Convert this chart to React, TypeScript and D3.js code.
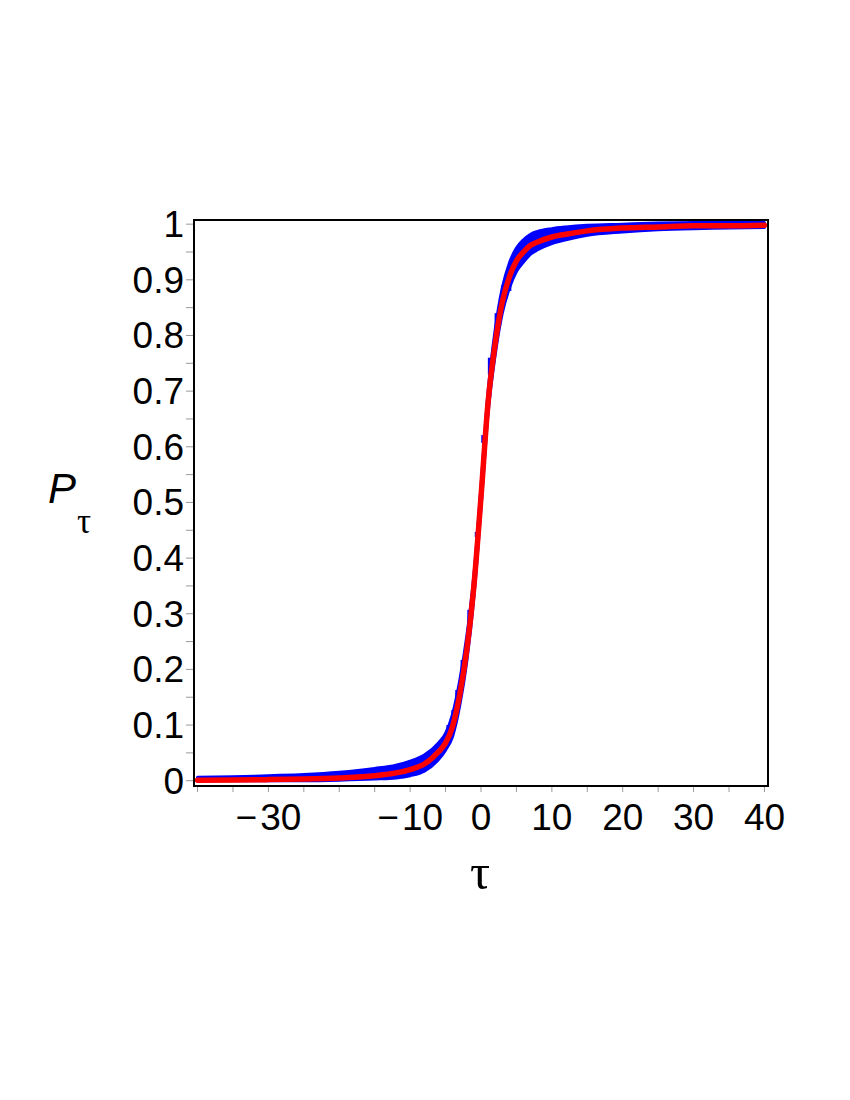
import React from "react";
import * as d3 from "d3";

// red fitted curve
const redTau = [-40, -35, -30, -25, -20, -15, -12, -10, -8, -6, -5, -4, -3, -2, -1, 0, 1, 2, 3, 4, 5, 6, 7, 8, 10, 12, 15, 20, 25, 30, 35, 40];
const redP = [0.001, 0.0015, 0.002, 0.003, 0.005, 0.009, 0.014, 0.020, 0.030, 0.052, 0.068, 0.098, 0.155, 0.235, 0.35, 0.51, 0.68, 0.785, 0.86, 0.905, 0.934, 0.95, 0.962, 0.968, 0.977, 0.982, 0.988, 0.993, 0.995, 0.997, 0.997, 0.998];

// blue sampled band (lower / upper edge of the points)
const blueLow = [0.0, 0.0, 0.0, 0.0, 0.001, 0.003, 0.005, 0.009, 0.017, 0.038, 0.055, 0.08, 0.135, 0.215, 0.33, 0.49, 0.66, 0.765, 0.84, 0.885, 0.915, 0.932, 0.946, 0.954, 0.965, 0.972, 0.98, 0.986, 0.99, 0.992, 0.993, 0.994];
const blueHigh = [0.006, 0.007, 0.009, 0.011, 0.015, 0.022, 0.028, 0.035, 0.046, 0.068, 0.085, 0.12, 0.18, 0.26, 0.37, 0.53, 0.70, 0.81, 0.885, 0.93, 0.957, 0.972, 0.982, 0.987, 0.992, 0.995, 0.998, 1.0, 1.002, 1.003, 1.003, 1.003];

// vertical spreads of blue points visible along the steep part
const dashTau = [-4.6, -3.9, -3.35, -2.6, -1.65, -0.6, 0.32, 1.25, 2.2, 3.1, 4.0];
const dashLo = [0.073, 0.091, 0.132, 0.184, 0.283, 0.438, 0.607, 0.73, 0.80, 0.86, 0.88];
const dashHi = [0.10, 0.127, 0.163, 0.217, 0.307, 0.447, 0.621, 0.76, 0.84, 0.89, 0.92];

const xTickLabels = [-30, -10, 0, 10, 20, 30, 40];
const yTickLabels = ["0", "0.1", "0.2", "0.3", "0.4", "0.5", "0.6", "0.7", "0.8", "0.9", "1"];

const frame = { left: 194, right: 768, top: 220, bottom: 786 };

export default function App() {
  const x = d3.scaleLinear().domain([-40.5, 40.5]).range([frame.left, frame.right]);
  const y = d3.scaleLinear().domain([-0.0095, 1.0075]).range([frame.bottom, frame.top]);

  const band = d3
    .area<number>()
    .x((_, i) => x(redTau[i]))
    .y0((_, i) => y(blueLow[i]))
    .y1((_, i) => y(blueHigh[i]))
    .curve(d3.curveMonotoneX);

  const redLine = d3
    .line<number>()
    .x((_, i) => x(redTau[i]))
    .y((d) => y(d))
    .curve(d3.curveMonotoneX);

  const xTicks = d3.range(-40, 40.01, 5);
  const yTicks = d3.range(0, 1.001, 0.05);
  const font = "'Liberation Sans', Arial, sans-serif";
  const serif = "'Liberation Serif', 'DejaVu Serif', serif";
  const fmtX = (v: number) => (v < 0 ? "\u2212\u200A" + Math.abs(v) : String(v));

  return (
    <svg width={850} height={1100} style={{ position: "absolute", left: 0, top: 0, background: "#fff" }}>
      {/* blue data band */}
      <path d={band(redTau) ?? ""} fill="#0000ff" stroke="#0000ff" strokeWidth={3} strokeLinejoin="round" />
      {dashTau.map((t, i) => (
        <line key={"d" + i} x1={x(t)} x2={x(t)} y1={y(dashLo[i])} y2={y(dashHi[i])} stroke="#0000ff" strokeWidth={4} />
      ))}
      {/* red fit */}
      <path d={redLine(redP) ?? ""} fill="none" stroke="#ff0000" strokeWidth={5.5} strokeLinecap="round" />

      {/* frame */}
      <rect
        x={frame.left}
        y={frame.top}
        width={frame.right - frame.left}
        height={frame.bottom - frame.top}
        fill="none"
        stroke="#000"
        strokeWidth={2}
      />

      {/* x ticks */}
      {xTicks.map((t) => (
        <line key={"xt" + t} x1={x(t)} x2={x(t)} y1={frame.bottom + 1} y2={frame.bottom + 6} stroke="#999" strokeWidth={1} />
      ))}
      {xTickLabels.map((t) => (
        <text key={"xl" + t} x={x(t)} y={830} textAnchor="middle" fontFamily={font} fontSize={37} fill="#000">
          {fmtX(t)}
        </text>
      ))}

      {/* y ticks */}
      {yTicks.map((t, i) => (
        <line key={"yt" + i} x1={frame.left - 8} x2={frame.left - 1} y1={y(t)} y2={y(t)} stroke="#999" strokeWidth={1} />
      ))}
      {yTickLabels.map((s) => (
        <text key={"yl" + s} x={184} y={y(+s) + 13} textAnchor="end" fontFamily={font} fontSize={37} fill="#000">
          {s}
        </text>
      ))}

      {/* axis titles */}
      <text x={480} y={889} textAnchor="middle" fontFamily={serif} fontSize={50} fill="#000">
        τ
      </text>
      <text x={48} y={503} fontFamily={font} fontStyle="italic" fontSize={42} fill="#000">
        P
      </text>
      <text x={77} y={533} fontFamily={serif} fontSize={35} fill="#000">
        τ
      </text>
    </svg>
  );
}
